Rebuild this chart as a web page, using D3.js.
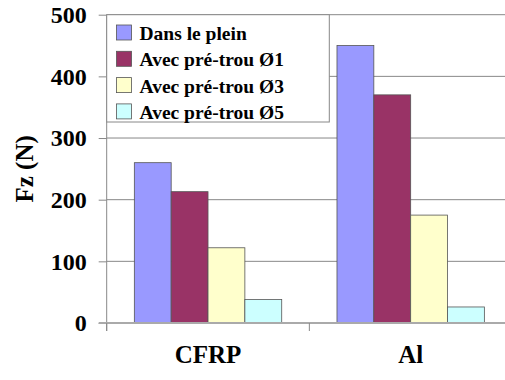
<!DOCTYPE html>
<html><head><meta charset="utf-8">
<script src="https://cdn.jsdelivr.net/npm/d3@7"></script>
<style>body{margin:0;background:#fff}svg{display:block}</style>
</head><body>
<svg id="c" width="505" height="380"></svg>
<script>
const categories = ["CFRP", "Al"];
const seriesNames = ["Dans le plein", "Avec pré-trou Ø1", "Avec pré-trou Ø3", "Avec pré-trou Ø5"];
const dansLePlein = [260, 450];
const preTrou1 = [213, 370];
const preTrou3 = [122, 175];
const preTrou5 = [38, 26];
const yTicks = [0, 100, 200, 300, 400, 500];
const colors = ["#9999FF", "#993366", "#FFFFCC", "#CCFFFF"];

const series = [dansLePlein, preTrou1, preTrou3, preTrou5];
const svg = d3.select("#c");
const pL = 106.7, pR = 512, pT = 14.7, pB = 323;
const FF = "\"Liberation Serif\", \"Times New Roman\", serif";

function serif(sel, size) {
  sel.style("font-family", FF, "important")
     .style("font-weight", "bold", "important")
     .style("font-size", size + "px", "important")
     .style("fill", "#000");
  return sel;
}

const y = d3.scaleLinear().domain([0, 500]).range([pB, pT]);
const x0 = d3.scaleBand().domain(categories).range([pL, pR]).paddingInner(0).paddingOuter(0);
const x1 = d3.scaleBand().domain(seriesNames).range([0, x0.bandwidth()]).paddingInner(0).paddingOuter(0.75);

// gridlines
svg.append("g").selectAll("line").data(yTicks.filter(d => d > 0)).join("line")
  .attr("x1", pL).attr("x2", pR).attr("y1", d => y(d)).attr("y2", d => y(d))
  .attr("stroke", "#888").attr("stroke-width", 1);

// bars
const gCat = svg.append("g").selectAll("g").data(categories).join("g")
  .attr("transform", d => `translate(${x0(d)},0)`);
gCat.selectAll("rect").data((c, ci) => seriesNames.map((s, si) => ({s, si, v: series[si][ci]})))
  .join("rect")
  .attr("x", d => x1(d.s)).attr("width", x1.bandwidth())
  .attr("y", d => y(d.v)).attr("height", d => y(0) - y(d.v))
  .attr("fill", d => colors[d.si]).attr("stroke", "#555").attr("stroke-width", 0.8);

// y axis
const yAxis = d3.axisLeft(y).tickValues(yTicks).tickSize(8).tickPadding(12);
const ga = svg.append("g").attr("transform", `translate(${pL},0)`).call(yAxis);
ga.select(".domain").attr("stroke", "#888").attr("d", `M0,${pT}V${pB + 8}`);
ga.selectAll(".tick line").attr("stroke", "#888");
serif(ga.selectAll(".tick text"), 24);

// x axis
const xAxis = d3.axisBottom(x0).tickSize(0).tickPadding(22);
const gx = svg.append("g").attr("transform", `translate(0,${pB})`).call(xAxis);
gx.select(".domain").attr("stroke", "#aaa").attr("stroke-width", 2).attr("d", `M${pL - 8},0H${pR}`);
serif(gx.selectAll(".tick text"), 25).attr("dy", "0.71em");
// category boundary ticks
svg.append("g").selectAll("line").data(categories.map(c => x0(c)).concat([pR])).join("line")
  .attr("x1", d => d).attr("x2", d => d).attr("y1", pB).attr("y2", pB + 8)
  .attr("stroke", "#888");

// y title
serif(svg.append("text").attr("transform", `translate(33,${(pT + pB) / 2}) rotate(-90)`)
  .attr("text-anchor", "middle").text("Fz (N)"), 25);

// legend
const lg = svg.append("g");
lg.append("rect").attr("x", pL).attr("y", pT).attr("width", 329.3 - pL).attr("height", 122 - pT)
  .attr("fill", "#fff").attr("stroke", "#888").attr("stroke-width", 1);
const items = lg.selectAll("g.it").data(seriesNames).join("g").attr("class", "it")
  .attr("transform", (d, i) => `translate(116.5,${25 + i * 26.3})`);
items.append("rect").attr("width", 15).attr("height", 15)
  .attr("fill", (d, i) => colors[i]).attr("stroke", "#555").attr("stroke-width", 0.8);
serif(items.append("text").attr("x", 23).attr("y", 15).text(d => d), 19.5);
</script>
</body></html>
